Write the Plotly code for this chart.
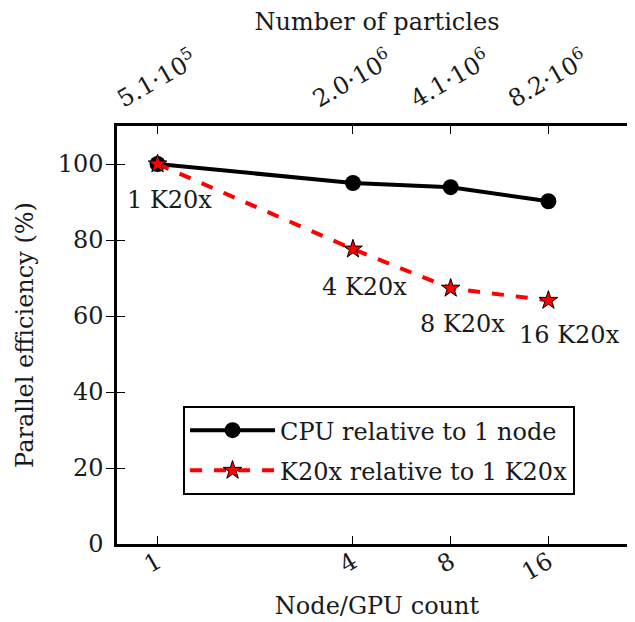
import math
import plotly.graph_objects as go

node_counts = [1, 4, 8, 16]
cpu_eff = [100.0, 95.0, 93.9, 90.2]
gpu_eff = [100.0, 77.6, 67.3, 64.1]
particle_labels = ["5.1·10<sup>5</sup>", "2.0·10<sup>6</sup>", "4.1·10<sup>6</sup>", "8.2·10<sup>6</sup>"]
gpu_point_labels = ["1 K20x", "4 K20x", "8 K20x", "16 K20x"]
y_ticks = [0, 20, 40, 60, 80, 100]

FONT = "DejaVu Serif"
fs = 24
TXT = "#1a1a1a"

fig = go.Figure()
fig.add_trace(go.Scatter(
    x=node_counts, y=cpu_eff, mode="lines+markers", name="CPU relative to 1 node",
    legendgroup="cpu",
    line=dict(color="black", width=4),
    marker=dict(symbol="circle", size=16, color="black"),
))
fig.add_trace(go.Scatter(
    x=node_counts, y=gpu_eff, mode="lines+markers", name="K20x relative to 1 K20x",
    legendgroup="gpu",
    line=dict(color="red", width=4, dash="dash"),
    marker=dict(symbol="star", size=14, color="red", line=dict(color="black", width=1)),
))
fig.add_trace(go.Scatter(x=node_counts, y=cpu_eff, xaxis="x2", mode="markers",
                         marker=dict(opacity=0), showlegend=False, hoverinfo="skip"))

offsets = [(12, -36), (12, -38), (12, -36), (21, -35)]
for xv, yv, t, (dx, dy) in zip(node_counts, gpu_eff, gpu_point_labels, offsets):
    fig.add_annotation(x=math.log10(xv), y=yv, xref="x", yref="y", text=t, showarrow=False,
                       xshift=dx, yshift=dy, font=dict(family=FONT, size=fs, color=TXT))

xr = [math.log10(0.75), math.log10(30)]
axis_common = dict(showline=True, linecolor="black", linewidth=2.5, ticks="inside",
                   ticklen=8, tickwidth=1.2, tickcolor="black", showgrid=False, zeroline=False,
                   automargin=False,
                   tickfont=dict(family=FONT, size=fs, color=TXT))

fig.update_layout(
    width=635, height=622,
    margin=dict(l=109, r=6, t=118, b=86),
    paper_bgcolor="white", plot_bgcolor="white",
    font=dict(family=FONT, size=fs, color=TXT),
    xaxis=dict(type="log", range=xr, tickvals=node_counts, ticktext=[str(v) for v in node_counts],
               tickangle=-30, mirror=True, ticklabelstandoff=-8,
               title=dict(text="Node/GPU count", font=dict(family=FONT, size=fs), standoff=12),
               **axis_common),
    xaxis2=dict(type="log", range=xr, overlaying="x", side="top", tickvals=node_counts,
                ticktext=particle_labels, tickangle=-30, ticklabelstandoff=4, ticklabelshift=-40,
                title=dict(text="Number of particles", font=dict(family=FONT, size=fs), standoff=12),
                **axis_common),
    yaxis=dict(range=[0, 110], tickvals=y_ticks, mirror="allticks", ticklabelstandoff=6,
               title=dict(text="Parallel efficiency (%)", font=dict(family=FONT, size=fs), standoff=18),
               **axis_common),
    legend=dict(x=0.127, y=0.33, xanchor="left", yanchor="top",
                bordercolor="black", borderwidth=2, bgcolor="white",
                font=dict(family=FONT, size=fs, color=TXT), itemwidth=85,
                tracegroupgap=6),
    showlegend=True,
)
fig.write_html("out.html")
